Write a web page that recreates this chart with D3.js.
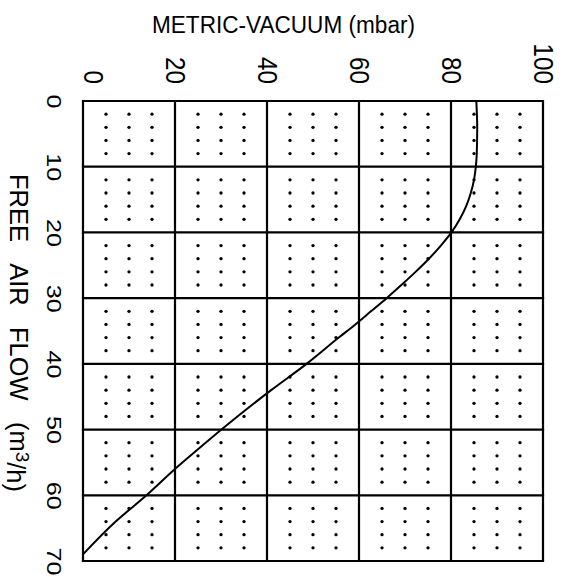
<!DOCTYPE html>
<html>
<head>
<meta charset="utf-8">
<script src="https://cdn.jsdelivr.net/npm/d3@7"></script>
<style>
  body { margin: 0; background: #fff; }
  text { font-family: "Liberation Sans", Arial, sans-serif; fill: #000; }
</style>
</head>
<body>
<div class="chart"></div>
<script>
// free air flow (m3/h) vs metric vacuum (mbar)
const flow   = [0, 4, 8, 10, 12, 14, 16, 18, 20, 22, 24, 26, 28, 30, 32, 34, 36, 40, 44, 50, 53, 56, 60, 64, 69]
const vacuum = [85.5, 85.7, 85.6, 85.4, 85.0, 84.3, 83.3, 81.9, 80.1, 77.8, 75.2, 72.3, 69.2, 66.0, 62.6, 59.2, 55.6, 48.6, 40.9, 30.1, 25.0, 20.0, 13.8, 7.1, 0]

const xTicks = [0, 20, 40, 60, 80, 100]
const yTicks = [0, 10, 20, 30, 40, 50, 60, 70]

const xTitle = "METRIC-VACUUM (mbar)"
const yTitle = "FREE\u00a0\u00a0\u00a0AIR\u00a0\u00a0\u00a0FLOW\u00a0\u00a0\u00a0(m"

const width = 565
const height = 577

const svg = d3.select(".chart")
    .append("svg")
    .attr("width", width)
    .attr("height", height)

const x = d3.scaleLinear().domain([0, 100]).range([83, 543])
const y = d3.scaleLinear().domain([0, 70]).range([101, 561])

// minor dots: 4 steps per 20 mbar, 5 steps per 10 m3/h
const dotX = d3.range(0, 100, 5).filter(d => d % 20 !== 0)
const dotY = d3.range(0, 70, 2).filter(d => d % 10 !== 0)
const dots = []
dotX.forEach(a => dotY.forEach(b => dots.push([a, b])))

svg.append("g")
    .selectAll("circle")
    .data(dots)
    .enter()
    .append("circle")
    .attr("cx", d => x(d[0]))
    .attr("cy", d => y(d[1]))
    .attr("r", 1.65)
    .style("fill", "#000")

// grid
const grid = svg.append("g")
    .style("stroke", "#000")
    .style("stroke-width", 2.2)

grid.selectAll(".vx")
    .data(xTicks)
    .enter()
    .append("line")
    .attr("x1", d => x(d))
    .attr("x2", d => x(d))
    .attr("y1", y(0))
    .attr("y2", y(70))

grid.selectAll(".hy")
    .data(yTicks)
    .enter()
    .append("line")
    .attr("x1", x(0) - 1.1)
    .attr("x2", x(100) + 1.1)
    .attr("y1", d => y(d))
    .attr("y2", d => y(d))

// curve
const line = d3.line()
    .x((d, i) => x(vacuum[i]))
    .y(d => y(d))
    .curve(d3.curveMonotoneY)

svg.append("path")
    .datum(flow)
    .attr("d", line)
    .style("fill", "none")
    .style("stroke", "#000")
    .style("stroke-width", 2)

// top axis, labels turned a quarter
const xAxis = svg.append("g")
    .attr("transform", "translate(0,84)")
    .call(d3.axisTop(x).tickValues(xTicks).tickSize(0))

xAxis.select(".domain").remove()
xAxis.selectAll("text")
    .attr("x", 0)
    .attr("y", 0)
    .attr("dy", "0.35em")
    .attr("text-anchor", "end")
    .attr("transform", (d, i) => i === 0 ? "translate(10,0) rotate(90)" : "rotate(90)")
    .attr("textLength", d => String(d).length * 13.5)
    .attr("lengthAdjust", "spacingAndGlyphs")
    .style("font-size", "28px")

// left axis
const yAxis = svg.append("g")
    .attr("transform", "translate(54,0)")
    .call(d3.axisLeft(y).tickValues(yTicks).tickSize(0))

yAxis.select(".domain").remove()
yAxis.selectAll("text")
    .attr("x", 0)
    .attr("y", 0)
    .attr("dy", "0.35em")
    .attr("text-anchor", "middle")
    .attr("transform", "rotate(90)")
    .attr("textLength", d => String(d).length * 14)
    .attr("lengthAdjust", "spacingAndGlyphs")
    .style("font-size", "21px")

// titles
svg.append("text")
    .attr("x", 283.5)
    .attr("y", 33.3)
    .attr("text-anchor", "middle")
    .attr("textLength", 263)
    .attr("lengthAdjust", "spacingAndGlyphs")
    .style("font-size", "23px")
    .text(xTitle)

const yt = svg.append("text")
    .attr("transform", "translate(9.5,333) rotate(90)")
    .attr("text-anchor", "middle")
    .style("font-size", "25.5px")

yt.append("tspan").text(yTitle)
yt.append("tspan").attr("dy", "-0.35em").style("font-size", "19px").text("3")
yt.append("tspan").attr("dy", "0.35em").text("/h)")
</script>
</body>
</html>
